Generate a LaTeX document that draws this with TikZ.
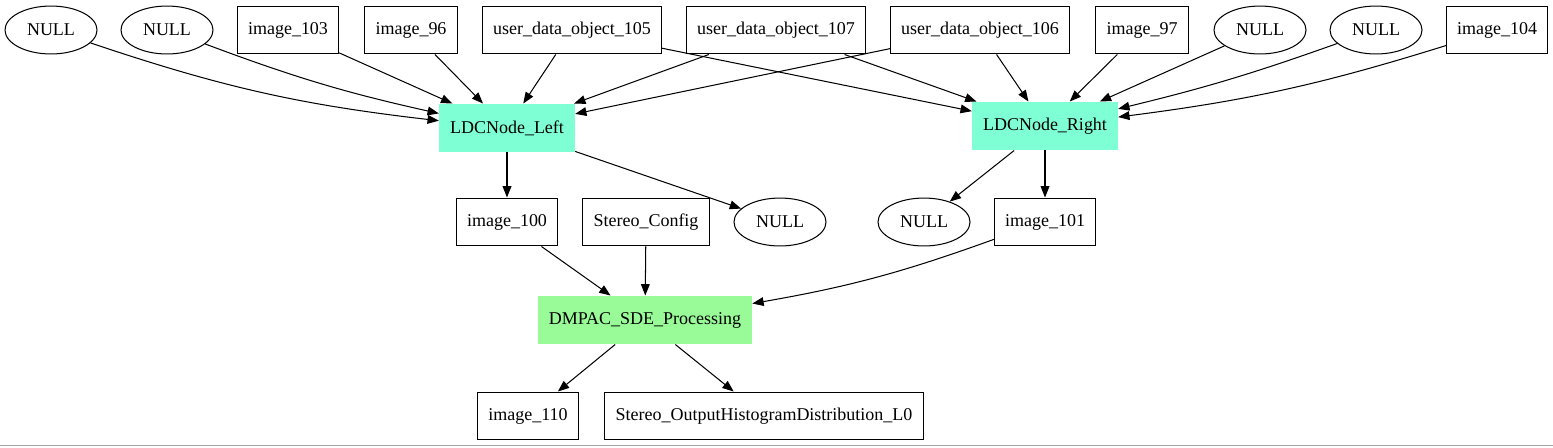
\documentclass[tikz,border=0pt]{standalone}
\usepackage{fontspec}
\setmainfont{Liberation Serif}
\usepackage{xcolor}
\usetikzlibrary{
  arrows.meta,
  shapes.geometric
}
\definecolor{aquamarine}{HTML}{7FFFD4}
\definecolor{palegreen}{HTML}{98FB98}
\tikzset{
  >={Triangle[length=8.8pt,width=6.8pt]},
  line cap=round,
  line join=round,
  every picture/.style={line width=0.8pt},
  every node/.style={font=\fontsize{14}{16}\selectfont},
  databox/.style={draw, rectangle, minimum height=37.3pt, inner xsep=8.3pt, align=center},
  nullnode/.style={draw, ellipse, minimum width=71.6pt, minimum height=37.3pt, inner sep=0pt},
  ldcbox/.style={rectangle, fill=aquamarine, minimum height=37.3pt, inner xsep=8.3pt},
  procbox/.style={rectangle, fill=palegreen, minimum height=37.3pt, inner xsep=8.3pt},
  flow/.style={->, line width=0.8pt}
}

\begin{document}
\begin{tikzpicture}[x=0.778pt, y=-0.778pt]
  \useasboundingbox (0,0) rectangle (1553,447);

  % top row
  \node[nullnode] (nullA) at (51,30) {NULL};
  \node[nullnode] (nullB) at (167,30) {NULL};
  \node[databox]  (img103) at (288,30) {image\_103};
  \node[databox]  (img96) at (411,30) {image\_96};
  \node[databox]  (udo105) at (572,30) {user\_data\_object\_105};
  \node[databox]  (udo107) at (776,30) {user\_data\_object\_107};
  \node[databox]  (udo106) at (980,30) {user\_data\_object\_106};
  \node[databox]  (img97) at (1142,30) {image\_97};
  \node[nullnode] (nullC) at (1260,30) {NULL};
  \node[nullnode] (nullD) at (1376,30) {NULL};
  \node[databox]  (img104) at (1497,30) {image\_104};

  % LDC nodes
  \node[ldcbox] (ldcL) at (507,128) {LDCNode\_Left};
  \node[ldcbox] (ldcR) at (1045,126) {LDCNode\_Right};

  % middle row
  \node[databox]  (img100) at (507,222) {image\_100};
  \node[databox]  (stcfg) at (646,222) {Stereo\_Config};
  \node[nullnode] (nullE) at (780,222) {NULL};
  \node[nullnode] (nullF) at (924,222) {NULL};
  \node[databox]  (img101) at (1045,222) {image\_101};

  \node[procbox] (dmpac) at (645,320) {DMPAC\_SDE\_Processing};

  % outputs
  \node[databox] (img110) at (528,416) {image\_110};
  \node[databox] (sthist) at (764,416) {Stereo\_OutputHistogramDistribution\_L0};

  % inputs of LDCNode_Left
  \draw[flow] (nullA) to[bend right=6] (ldcL);
  \draw[flow] (nullB) to[bend right=4] (ldcL);
  \draw[flow] (img103) -- (ldcL);
  \draw[flow] (img96) -- (ldcL);
  \draw[flow] (udo105) -- (ldcL);
  \draw[flow] (udo107) -- (ldcL);
  \draw[flow] (udo106) -- (ldcL);

  % inputs of LDCNode_Right
  \draw[flow] (udo105) -- (ldcR);
  \draw[flow] (udo107) -- (ldcR);
  \draw[flow] (udo106) -- (ldcR);
  \draw[flow] (img97) -- (ldcR);
  \draw[flow] (nullC) -- (ldcR);
  \draw[flow] (nullD) to[bend left=3] (ldcR);
  \draw[flow] (img104) to[bend left=5] (ldcR);

  % outputs of the LDC nodes
  \draw[flow] (ldcL) -- (img100);
  \draw[flow] (ldcL) -- (nullE);
  \draw[flow] (ldcR) -- (nullF);
  \draw[flow] (ldcR) -- (img101);

  % stereo processing
  \draw[flow] (img100) -- (dmpac);
  \draw[flow] (stcfg) -- (dmpac);
  \draw[flow] (img101) to[bend left=5] (dmpac);
  \draw[flow] (dmpac) -- (img110);
  \draw[flow] (dmpac) -- (sthist);

  \draw[gray!70, line width=1pt] (0,445.5) -- (1553,445.5);
\end{tikzpicture}
\end{document}
